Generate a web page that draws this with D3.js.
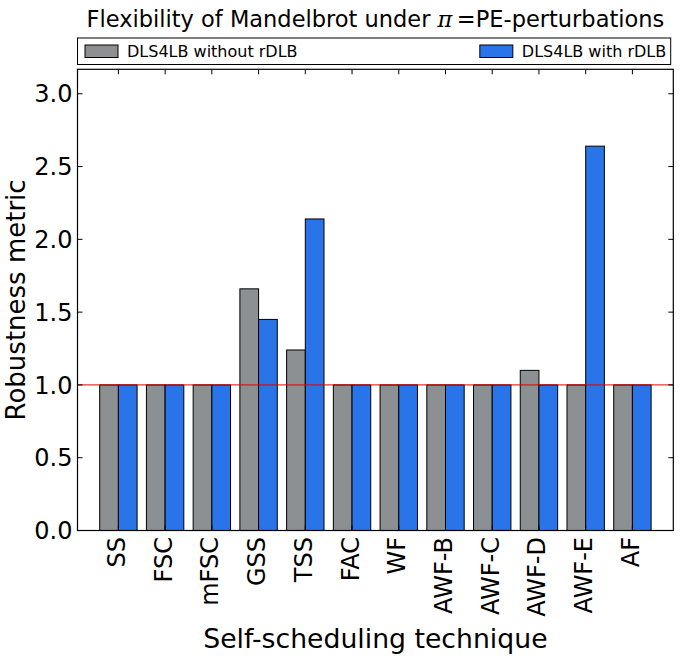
<!DOCTYPE html>
<html>
<head>
<meta charset="utf-8">
<script src="https://cdn.jsdelivr.net/npm/d3@7"></script>
<style>
  html, body { margin: 0; padding: 0; background: #fff; }
  svg { display: block; font-family: "DejaVu Sans", sans-serif; }
</style>
</head>
<body>
<svg id="chart" width="682" height="657"></svg>
<script>
const categories = ["SS","FSC","mFSC","GSS","TSS","FAC","WF","AWF-B","AWF-C","AWF-D","AWF-E","AF"];
const withoutRDLB = [1.0,1.0,1.0,1.66,1.24,1.0,1.0,1.0,1.0,1.10,1.0,1.0];
const withRDLB    = [1.0,1.0,1.0,1.45,2.14,1.0,1.0,1.0,1.0,1.0,2.64,1.0];
const seriesNames = ["DLS4LB without rDLB", "DLS4LB with rDLB"];
const yTicks = [0.0,0.5,1.0,1.5,2.0,2.5,3.0];
const referenceLine = 1.0;

const svg = d3.select("#chart");
const L = 77.5, R = 673.3, T = 69.3, B = 530.5;
const barW = 0.4;
const x = d3.scaleLinear().domain([-0.875, categories.length - 1 + 0.875]).range([L, R]);
const yMax = d3.max(withoutRDLB.concat(withRDLB)) * 1.2;
const y = d3.scaleLinear().domain([0, yMax]).range([B, T]);

const colors = ["#8c9093", "#2a74ea"];

// bars
const series = [withoutRDLB, withRDLB];
series.forEach((vals, s) => {
  svg.append("g").selectAll("rect").data(vals).join("rect")
    .attr("x", (d, i) => s === 0 ? x(i - barW) : x(i))
    .attr("width", x(barW) - x(0))
    .attr("y", d => y(d))
    .attr("height", d => y(0) - y(d))
    .attr("fill", colors[s])
    .attr("stroke", "#000")
    .attr("stroke-width", 1);
});

// reference line
svg.append("line")
  .attr("x1", L).attr("x2", R)
  .attr("y1", y(referenceLine)).attr("y2", y(referenceLine))
  .attr("stroke", "#e00000").attr("stroke-width", 1);

// frame
svg.append("rect").attr("x", L).attr("y", T).attr("width", R - L).attr("height", B - T)
  .attr("fill", "none").attr("stroke", "#000").attr("stroke-width", 1.2);

// ticks (inward, all sides)
const tl = 5;
const tg = svg.append("g").attr("stroke", "#000").attr("stroke-width", 1);
yTicks.forEach(v => {
  tg.append("line").attr("x1", L).attr("x2", L + tl).attr("y1", y(v)).attr("y2", y(v));
  tg.append("line").attr("x1", R).attr("x2", R - tl).attr("y1", y(v)).attr("y2", y(v));
});
categories.forEach((c, i) => {
  tg.append("line").attr("x1", x(i)).attr("x2", x(i)).attr("y1", T).attr("y2", T + tl);
  tg.append("line").attr("x1", x(i)).attr("x2", x(i)).attr("y1", B).attr("y2", B - tl);
});

// y tick labels
const fmt = d3.format(".1f");
svg.append("g").selectAll("text").data(yTicks).join("text")
  .attr("x", L - 5).attr("y", d => y(d))
  .attr("dy", "0.36em")
  .attr("text-anchor", "end")
  .attr("font-size", 24)
  .text(d => fmt(d));

// x tick labels
svg.append("g").selectAll("text").data(categories).join("text")
  .attr("transform", (d, i) => `translate(${x(i) + 6.5},${B + 6.5}) rotate(-90)`)
  .attr("text-anchor", "end")
  .attr("font-size", 24)
  .text(d => d);

// axis labels
svg.append("text")
  .attr("x", (L + R) / 2).attr("y", 648)
  .attr("text-anchor", "middle").attr("font-size", 26.7)
  .text("Self-scheduling technique");
svg.append("text")
  .attr("transform", `translate(24.5,${(T + B) / 2}) rotate(-90)`)
  .attr("text-anchor", "middle").attr("font-size", 26)
  .text("Robustness metric");

// title
const title = svg.append("text")
  .attr("x", (L + R) / 2).attr("y", 27)
  .attr("text-anchor", "middle").attr("font-size", 22.5);
title.append("tspan").text("Flexibility of Mandelbrot under ");
title.append("tspan").attr("font-style", "italic").attr("font-family", "DejaVu Serif").text("\u03C0");
title.append("tspan").text("\u2009=");
title.append("tspan").text("PE-perturbations");

// legend
const lgTop = 38, lgBot = 64.5, lgL = L, lgR = 670.7;
const lg = svg.append("g");
lg.append("rect").attr("x", lgL).attr("y", lgTop).attr("width", lgR - lgL).attr("height", lgBot - lgTop)
  .attr("fill", "#fff").attr("stroke", "#000").attr("stroke-width", 1);
const midY = (lgTop + lgBot) / 2;
const patchW = 33, patchH = 12.5;
// left entry
lg.append("rect").attr("x", lgL + 7.5).attr("y", midY - patchH / 2).attr("width", patchW).attr("height", patchH)
  .attr("fill", colors[0]).attr("stroke", "#000").attr("stroke-width", 1);
lg.append("text").attr("x", lgL + 7.5 + patchW + 9).attr("y", midY).attr("dy", "0.36em")
  .attr("font-size", 16).text(seriesNames[0]);
// right entry (right-aligned in expanded legend)
const rt = lg.append("text").attr("x", lgR - 4.5).attr("y", midY).attr("dy", "0.36em")
  .attr("text-anchor", "end").attr("font-size", 16).text(seriesNames[1]);
const rw = rt.node().getComputedTextLength();
lg.append("rect").attr("x", lgR - 4.5 - rw - 9 - patchW).attr("y", midY - patchH / 2).attr("width", patchW).attr("height", patchH)
  .attr("fill", colors[1]).attr("stroke", "#000").attr("stroke-width", 1);
</script>
</body>
</html>
